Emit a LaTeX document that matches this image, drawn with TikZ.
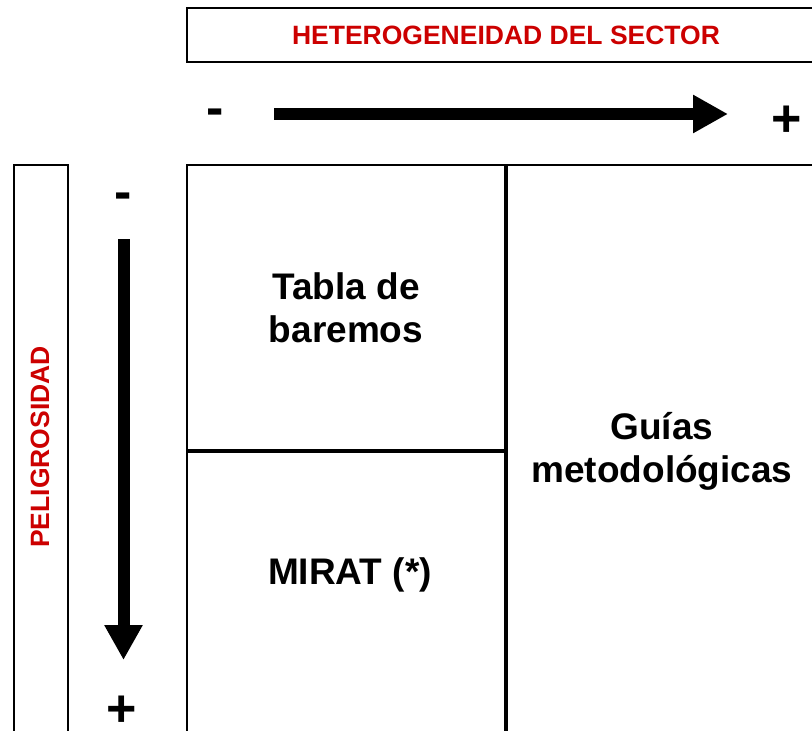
\documentclass[tikz,border=0pt]{standalone}
\usepackage{fontspec}
\setmainfont{Liberation Sans}
\usetikzlibrary{arrows.meta, positioning}
\definecolor{tagred}{RGB}{204,0,0}

\begin{document}
\begin{tikzpicture}[
	x=1pt, y=-1pt,
	frame/.style={rectangle, draw, line width=2pt, inner sep=0pt},
	cell/.style={frame, align=center, font=\fontsize{37}{43}\selectfont\bfseries},
	celltext/.style={align=center, font=\fontsize{37}{43}\selectfont\bfseries},
	tag/.style={text=tagred, font=\fontsize{26.5}{30}\selectfont\bfseries},
	sign/.style={inner sep=0pt, font=\fontsize{52}{60}\selectfont\bfseries},
	axis/.style={draw, line width=12pt, -{Triangle[length=35pt, width=36pt]}},
	]
	\useasboundingbox (0,0) rectangle (812,731);
	\clip (0,0) rectangle (812,731);
	
	% cabecera y eje horizontal
	\node [frame, tag, minimum width=638pt, minimum height=54pt, anchor=north west] (sector) at (186,7) {HETEROGENEIDAD DEL SECTOR};
	\node [sign, anchor=base] (hminus) at (215.5,125.5) {-};
	\node [sign, anchor=base] (hplus) at (787,136.5) {+};
	\coordinate (hstart) at (274,114);
	\coordinate (hend) at (728,114);
	\path [axis] (hstart) -- (hend);
	
	% cuadro de metodos
	\node [cell, minimum width=318pt, minimum height=285pt, anchor=north west] (tabla) at (186,164) {Tabla de\\baremos};
	\node [frame, minimum width=318pt, minimum height=290pt, anchor=north west] (mirat) at (tabla.south west) {};
	\node [celltext] (miratlbl) at (350,575) {MIRAT (*)};
	\node [cell, minimum width=310pt, minimum height=572pt, anchor=north west] (guias) at (tabla.north east) {Guías\\metodológicas};
	
	% eje vertical
	\node [frame, minimum width=54pt, minimum height=580pt, anchor=north west] (peli) at (13,164) {};
	\node [tag, rotate=90] (pelilbl) at (40,447) {PELIGROSIDAD};
	\node [sign, anchor=base] (vminus) at (123,209) {-};
	\node [sign, anchor=base] (vplus) at (122,726) {+};
	\coordinate (vstart) at (123.5,239);
	\coordinate (vend) at (123.5,660);
	\path [axis] (vstart) -- (vend);
\end{tikzpicture}
\end{document}
